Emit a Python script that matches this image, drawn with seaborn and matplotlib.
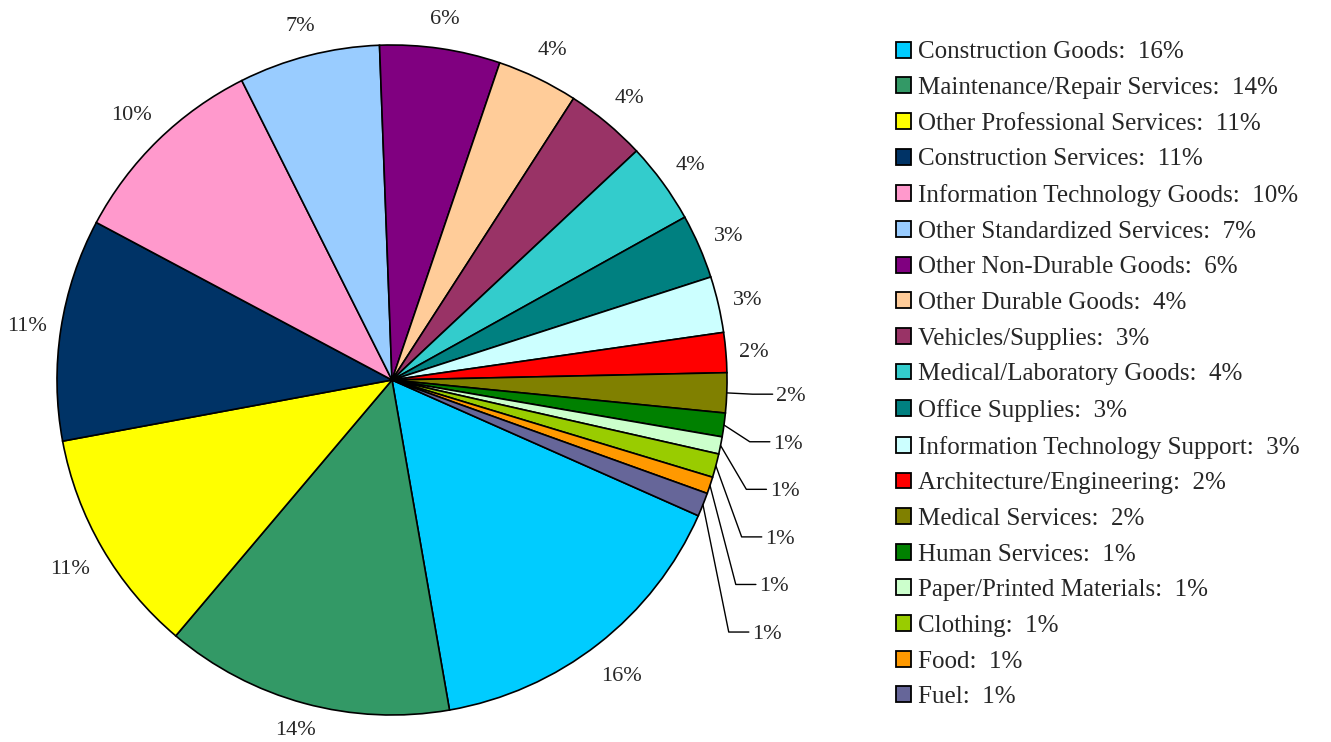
"""Purchase categories share as an Excel-style pie chart with leader labels."""
import matplotlib
matplotlib.use("Agg")
import matplotlib.pyplot as plt
from matplotlib.patches import Patch
import numpy as np
import seaborn as sns

CATEGORIES = [
    "Construction Goods",
    "Maintenance/Repair Services",
    "Other Professional Services",
    "Construction Services",
    "Information Technology Goods",
    "Other Standardized Services",
    "Other Non-Durable Goods",
    "Other Durable Goods",
    "Vehicles/Supplies",
    "Medical/Laboratory Goods",
    "Office Supplies",
    "Information Technology Support",
    "Architecture/Engineering",
    "Medical Services",
    "Human Services",
    "Paper/Printed Materials",
    "Clothing",
    "Food",
    "Fuel",
]
# shares
SHARES = [15.6, 13.9, 10.9, 10.7, 9.8, 6.8, 5.8, 3.9, 3.9, 3.9,
          3.1, 2.7, 1.92, 1.92, 1.14, 0.83, 1.14, 0.81, 1.14]
SLICE_LABELS = ["16%", "14%", "11%", "11%", "10%", "7%", "6%", "4%", "4%", "4%",
                "3%", "3%", "2%", "2%", "1%", "1%", "1%", "1%", "1%"]
LEGEND_PCT = ["16%", "14%", "11%", "11%", "10%", "7%", "6%", "4%", "3%", "4%",
              "3%", "3%", "2%", "2%", "1%", "1%", "1%", "1%", "1%"]
COLORS = ["#00CCFF", "#339966", "#FFFF00", "#003366", "#FF99CC", "#99CCFF",
          "#800080", "#FFCC99", "#993366", "#33CCCC", "#008080", "#CCFFFF",
          "#FF0000", "#808000", "#008000", "#CCFFCC", "#99CC00", "#FF9900",
          "#666699"]

LEADER_START = 13  # small slices from here on get stacked labels with leaders
FS = 16
LEGEND_FS = 18


def main():
    sns.set_theme(style="white")
    plt.rcParams["font.family"] = ["Liberation Serif", "DejaVu Serif"]
    palette = sns.color_palette(COLORS)

    W, H = 1331, 742
    fig = plt.figure(figsize=(W / 100, H / 100), dpi=100)
    # pie centre (392, 380) px from top-left, radius 335 px
    r_px, lim = 335, 1.2
    cx_px, cy_px = 392, H - 380
    side = 2 * lim * r_px
    ax = fig.add_axes([(cx_px - side / 2) / W, (cy_px - side / 2) / H, side / W, side / H])

    wedges, _ = ax.pie(SHARES, colors=palette, startangle=-23.9, counterclock=False,
                       radius=1.0, wedgeprops=dict(edgecolor="black", linewidth=1.2))
    ax.set_xlim(-lim, lim)
    ax.set_ylim(-lim, lim)
    ax.set_aspect("equal")
    ax.axis("off")

    fig.canvas.draw()
    renderer = fig.canvas.get_renderer()
    gap_px, half_h_px, margin_px = 11.5, 18, 14
    y_floor = -(cy_px - margin_px) / r_px

    prev_y = np.inf
    for i, (w, lab) in enumerate(zip(wedges, SLICE_LABELS)):
        mid = np.deg2rad((w.theta1 + w.theta2) / 2)
        ux, uy = np.cos(mid), np.sin(mid)
        if i < LEADER_START:
            t = ax.text(0, 0, lab, ha="center", va="center_baseline", fontsize=FS)
            half_w = t.get_window_extent(renderer).width / 2
            dist = (r_px + gap_px + half_w * abs(ux) + half_h_px * abs(uy)) / r_px
            t.set_position((dist * ux, max(dist * uy, y_floor)))
        else:
            y = min(1.1 * uy, prev_y - 0.142)
            prev_y = y
            elbow = ux + 0.077
            ax.plot([ux, elbow, elbow + 0.06], [uy, y, y], color="black", lw=1.0,
                    clip_on=False)
            ax.text(elbow + 0.07, y, lab, ha="left", va="center_baseline", fontsize=FS)

    handles = [Patch(facecolor=c, edgecolor="black", linewidth=1.3) for c in palette]
    labels = [f"{name}:  {pct}" for name, pct in zip(CATEGORIES, LEGEND_PCT)]
    fig.legend(handles, labels, loc="upper left", bbox_to_anchor=(896 / W, 1 - 41.5 / H),
               frameon=False, fontsize=LEGEND_FS, handlelength=0.6, handleheight=0.6,
               handletextpad=0.3, labelspacing=0.546, borderpad=0, borderaxespad=0)

    fig.savefig("out.png", dpi=100)
    plt.close(fig)


if __name__ == "__main__":
    main()
